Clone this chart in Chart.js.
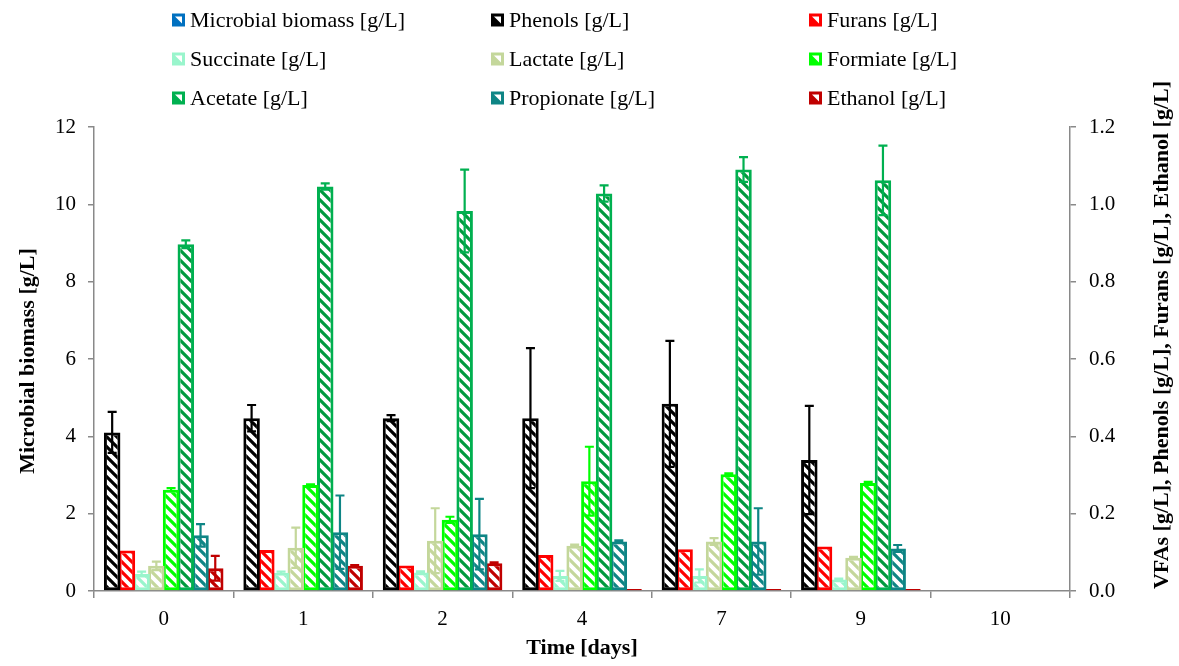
<!DOCTYPE html>
<html>
<head>
<meta charset="utf-8">
<script src="https://cdn.jsdelivr.net/npm/chart.js@4/dist/chart.umd.min.js"></script>
<style>
  html, body { margin: 0; padding: 0; background: #fff; }
  #wrap { width: 1179px; height: 666px; position: relative; }
</style>
</head>
<body>
<div id="wrap"><canvas id="c" width="1179" height="666"></canvas></div>
<script>
// Sampling days
const days = ['0', '1', '2', '4', '7', '9', '10'];

// Left axis series (no measured bars shown)
const biomass = [null, null, null, null, null, null, null];

// Right axis series [g/L] with standard deviations
const phenols       = [0.410, 0.447, 0.447, 0.447, 0.484, 0.339, null];
const phenolsErr    = [0.053, 0.034, 0.008, 0.181, 0.163, 0.140, null];
const furans        = [0.105, 0.106, 0.066, 0.093, 0.108, 0.115, null];
const furansErr     = [0, 0, 0, 0, 0, 0, null];
const succinate     = [0.044, 0.047, 0.048, 0.039, 0.039, 0.030, null];
const succinateErr  = [0.006, 0.003, 0.003, 0.013, 0.017, 0.002, null];
const lactate       = [0.065, 0.112, 0.130, 0.117, 0.128, 0.086, null];
const lactateErr    = [0.011, 0.052, 0.084, 0.003, 0.009, 0.002, null];
const formiate      = [0.262, 0.274, 0.184, 0.284, 0.302, 0.279, null];
const formiateErr   = [0.004, 0.002, 0.008, 0.089, 0.002, 0.003, null];
const acetate       = [0.897, 1.046, 0.983, 1.028, 1.090, 1.062, null];
const acetateErr    = [0.010, 0.008, 0.107, 0.021, 0.032, 0.090, null];
const propionate    = [0.144, 0.152, 0.147, 0.128, 0.128, 0.110, null];
const propionateErr = [0.029, 0.095, 0.091, 0.003, 0.086, 0.009, null];
const ethanol       = [0.059, 0.065, 0.072, 0.005, 0.005, 0.005, null];
const ethanolErr    = [0.032, 0.002, 0.002, 0, 0, 0, null];

// Axis ticks
const leftTicks  = [0, 2, 4, 6, 8, 10, 12];
const rightTicks = [0, 0.2, 0.4, 0.6, 0.8, 1.0, 1.2];

const SERIF = '"Liberation Serif", "Times New Roman", serif';
const AXIS_GRAY = '#898989';

const canvas = document.getElementById('c');
const ctx = canvas.getContext('2d');

// Diagonal hatch fill: white ground, "\" stripes in the series colour
function hatch(color) {
  const s = 10;
  const t = document.createElement('canvas');
  t.width = s; t.height = s;
  const g = t.getContext('2d');
  g.fillStyle = '#ffffff';
  g.fillRect(0, 0, s, s);
  g.strokeStyle = color;
  g.lineWidth = 3.2;
  g.beginPath();
  for (let k = -1; k <= 1; k++) {
    g.moveTo(k * s - 2, -2);
    g.lineTo(k * s + s + 2, s + 2);
  }
  g.stroke();
  return ctx.createPattern(t, 'repeat');
}

function series(label, data, err, color, stripe, axis) {
  return {
    label, data,
    errors: err,
    yAxisID: axis,
    backgroundColor: hatch(stripe || color),
    borderColor: color,
    borderWidth: 3,
    borderSkipped: false,
    categoryPercentage: 0.845,
    barPercentage: 1.12,
    seriesColor: color,
    stripeColor: stripe || color
  };
}

const datasets = [
  Object.assign(series('Microbial biomass [g/L]', biomass, null, '#0070C0', null, 'y'), { grouped: false }),
  series('Phenols [g/L]', phenols, phenolsErr, '#000000', null, 'y2'),
  series('Furans [g/L]', furans, furansErr, '#FF0000', null, 'y2'),
  series('Succinate [g/L]', succinate, succinateErr, '#99F5CC', null, 'y2'),
  series('Lactate [g/L]', lactate, lactateErr, '#C4D79B', null, 'y2'),
  series('Formiate [g/L]', formiate, formiateErr, '#00FF00', null, 'y2'),
  series('Acetate [g/L]', acetate, acetateErr, '#00B050', '#009A3E', 'y2'),
  series('Propionate [g/L]', propionate, propionateErr, '#0E8585', null, 'y2'),
  series('Ethanol [g/L]', ethanol, ethanolErr, '#C00000', null, 'y2')
];

// Vertical error whiskers with caps
const errorBars = {
  id: 'errorBars',
  afterDatasetsDraw(chart) {
    const c = chart.ctx;
    chart.data.datasets.forEach((ds, di) => {
      if (!ds.errors) return;
      const meta = chart.getDatasetMeta(di);
      const scale = chart.scales[ds.yAxisID];
      meta.data.forEach((bar, i) => {
        const v = ds.data[i], e = ds.errors[i];
        if (v == null || !e) return;
        const yTop = scale.getPixelForValue(v + e);
        const yBot = scale.getPixelForValue(Math.max(0, v - e));
        const x = bar.x, cap = 4.5;
        c.save();
        c.strokeStyle = ds.seriesColor;
        c.lineWidth = 2.2;
        c.beginPath();
        c.moveTo(x, yTop); c.lineTo(x, yBot);
        c.moveTo(x - cap, yTop); c.lineTo(x + cap, yTop);
        c.moveTo(x - cap, yBot); c.lineTo(x + cap, yBot);
        c.stroke();
        c.restore();
      });
    });
  }
};

// Three-column legend above the plot
const gridLegend = {
  id: 'gridLegend',
  afterDraw(chart) {
    const c = chart.ctx;
    const colX = [172, 491, 809];
    const rowY = [20, 59, 98];
    c.save();
    c.font = '22px ' + SERIF;
    c.textBaseline = 'middle';
    c.textAlign = 'left';
    chart.data.datasets.forEach((ds, i) => {
      const x = colX[i % 3], y = rowY[Math.floor(i / 3)];
      const s = 13;
      c.fillStyle = ds.seriesColor;
      c.fillRect(x, y - s / 2, s, s);
      c.fillStyle = '#ffffff';
      c.beginPath();
      c.moveTo(x + 3, y - s / 2 + 3);
      c.lineTo(x + s - 3, y - s / 2 + 3);
      c.lineTo(x + s - 3, y + s / 2 - 3);
      c.closePath();
      c.fill();
      c.fillStyle = '#000000';
      c.fillText(ds.label, x + 18, y + 1);
    });
    c.restore();
  }
};

// Axis titles
const axisTitles = {
  id: 'axisTitles',
  afterDraw(chart) {
    const c = chart.ctx;
    const a = chart.chartArea;
    c.save();
    c.fillStyle = '#000000';
    c.font = 'bold 22px ' + SERIF;
    c.textAlign = 'center';
    c.textBaseline = 'middle';
    c.fillText('Time [days]', (a.left + a.right) / 2, 648);
    c.save();
    c.translate(28, 361);
    c.rotate(-Math.PI / 2);
    c.fillText('Microbial biomass [g/L]', 0, 0);
    c.restore();
    c.save();
    c.translate(1162, 335);
    c.rotate(-Math.PI / 2);
    c.fillText('VFAs [g/L], Phenols [g/L], Furans [g/L], Ethanol [g/L]', 0, 0);
    c.restore();
    c.restore();
  }
};

const tickFont = { family: SERIF, size: 21 };

new Chart(canvas, {
  type: 'bar',
  data: { labels: days, datasets },
  options: {
    responsive: false,
    animation: false,
    devicePixelRatio: 1,
    layout: { padding: { top: 127, left: 0, right: 0, bottom: 0 } },
    plugins: { legend: { display: false }, tooltip: { enabled: false } },
    scales: {
      x: {
        type: 'category',
        offset: true,
        grid: { display: true, offset: true, drawOnChartArea: false, drawTicks: true, tickLength: 7, color: AXIS_GRAY, lineWidth: 1.5 },
        border: { color: AXIS_GRAY, width: 1.5 },
        ticks: { font: tickFont, color: '#000', padding: 9, maxRotation: 0 },
        afterFit(s) { s.height = 75; }
      },
      y: {
        position: 'left',
        min: 0, max: 12,
        afterBuildTicks(s) { s.ticks = leftTicks.map(v => ({ value: v })); },
        grid: { drawOnChartArea: false, drawTicks: true, tickLength: 6, color: AXIS_GRAY, lineWidth: 1.5 },
        border: { color: AXIS_GRAY, width: 1.5 },
        ticks: { font: tickFont, color: '#000', padding: 12, callback: v => String(v) },
        afterFit(s) { s.width = 94; }
      },
      y2: {
        position: 'right',
        min: 0, max: 1.2,
        afterBuildTicks(s) { s.ticks = rightTicks.map(v => ({ value: v })); },
        grid: { drawOnChartArea: false, drawTicks: true, tickLength: 6, color: AXIS_GRAY, lineWidth: 1.5 },
        border: { color: AXIS_GRAY, width: 1.5 },
        ticks: { font: tickFont, color: '#000', padding: 13, callback: v => Number(v).toFixed(1) },
        afterFit(s) { s.width = 109; }
      }
    }
  },
  plugins: [errorBars, gridLegend, axisTitles]
});
</script>
</body>
</html>
